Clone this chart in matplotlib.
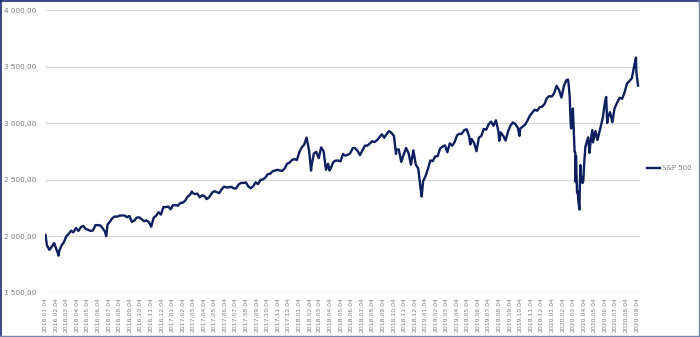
import matplotlib.pyplot as plt
import matplotlib.dates as mdates
import matplotlib.ticker as mticker
from matplotlib.lines import Line2D
import pandas as pd

# S&P 500 closes (weekly, plus a few key days)
dates_2016 = ["2016-01-04", "2016-01-08", "2016-01-15", "2016-01-22", "2016-01-29", "2016-02-05",
              "2016-02-11", "2016-02-12", "2016-02-19", "2016-02-26", "2016-03-04", "2016-03-11",
              "2016-03-18", "2016-03-24", "2016-04-01", "2016-04-08", "2016-04-15", "2016-04-22",
              "2016-04-29", "2016-05-06", "2016-05-13", "2016-05-20", "2016-05-27", "2016-06-03",
              "2016-06-10", "2016-06-17", "2016-06-24", "2016-06-27", "2016-07-01", "2016-07-08",
              "2016-07-15", "2016-07-22", "2016-07-29", "2016-08-05", "2016-08-12", "2016-08-19",
              "2016-08-26", "2016-09-02", "2016-09-09", "2016-09-16", "2016-09-23", "2016-09-30",
              "2016-10-07", "2016-10-14", "2016-10-21", "2016-10-28", "2016-11-04", "2016-11-11",
              "2016-11-18", "2016-11-25", "2016-12-02", "2016-12-09", "2016-12-16", "2016-12-23",
              "2016-12-30"]
sp_2016 = [2012, 1922, 1880, 1907, 1940, 1880,
           1829, 1865, 1918, 1948, 2000, 2022,
           2050, 2035, 2073, 2048, 2081, 2092,
           2065, 2057, 2047, 2052, 2099, 2099,
           2096, 2071, 2037, 2001, 2103, 2130,
           2162, 2175, 2174, 2183, 2184, 2184,
           2169, 2180, 2128, 2139, 2165, 2168,
           2153, 2133, 2141, 2126, 2085, 2164,
           2182, 2213, 2192, 2259, 2258, 2263,
           2239]

dates_2017 = ["2017-01-06", "2017-01-13", "2017-01-20", "2017-01-27", "2017-02-03", "2017-02-10",
              "2017-02-17", "2017-02-24", "2017-03-01", "2017-03-03", "2017-03-10", "2017-03-17",
              "2017-03-24", "2017-03-31", "2017-04-07", "2017-04-13", "2017-04-21", "2017-04-28",
              "2017-05-05", "2017-05-12", "2017-05-19", "2017-05-26", "2017-06-02", "2017-06-09",
              "2017-06-16", "2017-06-23", "2017-06-30", "2017-07-07", "2017-07-14", "2017-07-21",
              "2017-07-28", "2017-08-04", "2017-08-11", "2017-08-18", "2017-08-25", "2017-09-01",
              "2017-09-08", "2017-09-15", "2017-09-22", "2017-09-29", "2017-10-06", "2017-10-13",
              "2017-10-20", "2017-10-27", "2017-11-03", "2017-11-10", "2017-11-17", "2017-11-24",
              "2017-12-01", "2017-12-08", "2017-12-15", "2017-12-22", "2017-12-29"]
sp_2017 = [2277, 2275, 2271, 2295, 2297, 2316,
           2351, 2367, 2396, 2383, 2373, 2378,
           2344, 2363, 2355, 2329, 2349, 2384,
           2399, 2390, 2382, 2416, 2439, 2432,
           2433, 2438, 2423, 2425, 2459, 2472,
           2472, 2476, 2441, 2425, 2443, 2477,
           2461, 2500, 2502, 2519, 2549, 2553,
           2575, 2581, 2588, 2582, 2578, 2602,
           2642, 2652, 2675, 2683, 2674]

dates_2018 = ["2018-01-05", "2018-01-12", "2018-01-19", "2018-01-26", "2018-02-02", "2018-02-08",
              "2018-02-09", "2018-02-16", "2018-02-23", "2018-03-02", "2018-03-09", "2018-03-16",
              "2018-03-23", "2018-03-29", "2018-04-02", "2018-04-06", "2018-04-13", "2018-04-20",
              "2018-04-27", "2018-05-04", "2018-05-11", "2018-05-18", "2018-05-25", "2018-06-01",
              "2018-06-08", "2018-06-15", "2018-06-22", "2018-06-29", "2018-07-06", "2018-07-13",
              "2018-07-20", "2018-07-27", "2018-08-03", "2018-08-10", "2018-08-17", "2018-08-24",
              "2018-08-31", "2018-09-07", "2018-09-14", "2018-09-21", "2018-09-28", "2018-10-05",
              "2018-10-11", "2018-10-12", "2018-10-19", "2018-10-26", "2018-11-02", "2018-11-09",
              "2018-11-16", "2018-11-23", "2018-11-30", "2018-12-07", "2018-12-14", "2018-12-21",
              "2018-12-24", "2018-12-28"]
sp_2018 = [2743, 2786, 2810, 2873, 2762, 2581,
           2620, 2732, 2747, 2691, 2786, 2752,
           2588, 2641, 2582, 2604, 2656, 2670,
           2670, 2663, 2728, 2713, 2721, 2735,
           2779, 2780, 2755, 2718, 2760, 2801,
           2802, 2819, 2840, 2833, 2850, 2875,
           2902, 2872, 2905, 2930, 2914, 2886,
           2728, 2767, 2768, 2658, 2723, 2781,
           2736, 2633, 2760, 2633, 2600, 2417,
           2351, 2486]

dates_2019 = ["2019-01-04", "2019-01-11", "2019-01-18", "2019-01-25", "2019-02-01", "2019-02-08",
              "2019-02-15", "2019-02-22", "2019-03-01", "2019-03-08", "2019-03-15", "2019-03-22",
              "2019-03-29", "2019-04-05", "2019-04-12", "2019-04-18", "2019-04-26", "2019-05-03",
              "2019-05-10", "2019-05-13", "2019-05-17", "2019-05-24", "2019-05-31", "2019-06-07",
              "2019-06-14", "2019-06-21", "2019-06-28", "2019-07-05", "2019-07-12", "2019-07-19",
              "2019-07-26", "2019-08-02", "2019-08-05", "2019-08-09", "2019-08-16", "2019-08-23",
              "2019-08-30", "2019-09-06", "2019-09-13", "2019-09-20", "2019-09-27", "2019-10-02",
              "2019-10-04", "2019-10-11", "2019-10-18", "2019-10-25", "2019-11-01", "2019-11-08",
              "2019-11-15", "2019-11-22", "2019-11-29", "2019-12-06", "2019-12-13", "2019-12-20",
              "2019-12-27"]
sp_2019 = [2532, 2596, 2671, 2665, 2707, 2708,
           2776, 2793, 2804, 2743, 2822, 2801,
           2834, 2893, 2907, 2905, 2940, 2946,
           2881, 2812, 2860, 2826, 2752, 2873,
           2887, 2950, 2942, 2990, 3014, 2977,
           3026, 2932, 2845, 2919, 2889, 2847,
           2926, 2979, 3007, 2992, 2962, 2888,
           2952, 2970, 2986, 3023, 3067, 3093,
           3120, 3110, 3141, 3146, 3169, 3221,
           3240]

dates_2020 = ["2020-01-03", "2020-01-10", "2020-01-17", "2020-01-24", "2020-01-31", "2020-02-07",
              "2020-02-14", "2020-02-19", "2020-02-21", "2020-02-24", "2020-02-25", "2020-02-27",
              "2020-02-28", "2020-03-03", "2020-03-04", "2020-03-06", "2020-03-09", "2020-03-11",
              "2020-03-12", "2020-03-13", "2020-03-16", "2020-03-18", "2020-03-20", "2020-03-23",
              "2020-03-24", "2020-03-26", "2020-03-27", "2020-04-01", "2020-04-03", "2020-04-06",
              "2020-04-09", "2020-04-17", "2020-04-21", "2020-04-24", "2020-04-29", "2020-05-01",
              "2020-05-08", "2020-05-14", "2020-05-15", "2020-05-22", "2020-05-29", "2020-06-05",
              "2020-06-08", "2020-06-11", "2020-06-12", "2020-06-19", "2020-06-26", "2020-07-02",
              "2020-07-10", "2020-07-17", "2020-07-24", "2020-07-31", "2020-08-07", "2020-08-14",
              "2020-08-21", "2020-08-28", "2020-09-02", "2020-09-03", "2020-09-04", "2020-09-08"]
sp_2020 = [3235, 3265, 3330, 3295, 3226, 3328,
           3380, 3386, 3338, 3226, 3128, 2979,
           2954, 3003, 3130, 2972, 2747, 2741,
           2481, 2711, 2386, 2398, 2305, 2237,
           2447, 2630, 2541, 2471, 2489, 2664,
           2790, 2875, 2737, 2837, 2939, 2831,
           2930, 2852, 2864, 2955, 3044, 3194,
           3232, 3002, 3041, 3098, 3009, 3130,
           3185, 3225, 3216, 3271, 3351, 3373,
           3397, 3508, 3580, 3455, 3427, 3332]

series_name = "S&P 500"
y_ticks = [1500, 2000, 2500, 3000, 3500, 4000]

dates = pd.to_datetime(dates_2016 + dates_2017 + dates_2018 + dates_2019 + dates_2020)
values = sp_2016 + sp_2017 + sp_2018 + sp_2019 + sp_2020

navy = "#0c1f5e"
grey_txt = "#7f7f7f"

fig = plt.figure(figsize=(7, 3.37), dpi=100)
ax = fig.add_axes([0.064, 0.131, 0.850, 0.839])

ax.plot(dates, values, color=navy, linewidth=1.7, solid_joinstyle="round")

ax.set_ylim(1500, 4000)
ax.set_yticks(y_ticks)
ax.yaxis.set_major_formatter(mticker.FuncFormatter(
    lambda v, p: "{:,.2f}".format(v).replace(",", " ").replace(".", ",")))
ax.grid(axis="y", color="#d9d9d9", linewidth=0.9)
ax.set_axisbelow(True)

ax.set_xlim(pd.Timestamp("2016-01-02"), pd.Timestamp("2020-09-13"))
ax.xaxis.set_major_locator(mdates.MonthLocator(bymonthday=4))
ax.xaxis.set_major_formatter(mdates.DateFormatter("%Y.%m.%d"))

for s in ax.spines.values():
    s.set_visible(False)
ax.tick_params(axis="both", length=0, labelcolor=grey_txt)
ax.tick_params(axis="y", labelsize=5.2, pad=6)
ax.tick_params(axis="x", labelsize=4.4, labelrotation=90, pad=3)

handle = Line2D([0], [0], color=navy, linewidth=1.7)
fig.legend([handle], [series_name], loc="center left", bbox_to_anchor=(0.918, 0.5),
           frameon=False, fontsize=5, labelcolor=grey_txt, handlelength=1.8,
           handletextpad=0.3, borderpad=0.2)

# chart border
fig.add_artist(Line2D([0, 1], [0.9985, 0.9985], color="#1a2a6c", linewidth=1.2, transform=fig.transFigure))
fig.add_artist(Line2D([0.001, 0.001], [0, 1], color="#1a2a6c", linewidth=1.2, transform=fig.transFigure))
fig.add_artist(Line2D([0.9985, 0.9985], [0, 1], color="#7384a8", linewidth=1.0, transform=fig.transFigure))
fig.add_artist(Line2D([0, 1], [0.002, 0.002], color="#7384a8", linewidth=1.0, transform=fig.transFigure))

fig.savefig("out.png", dpi=100)
